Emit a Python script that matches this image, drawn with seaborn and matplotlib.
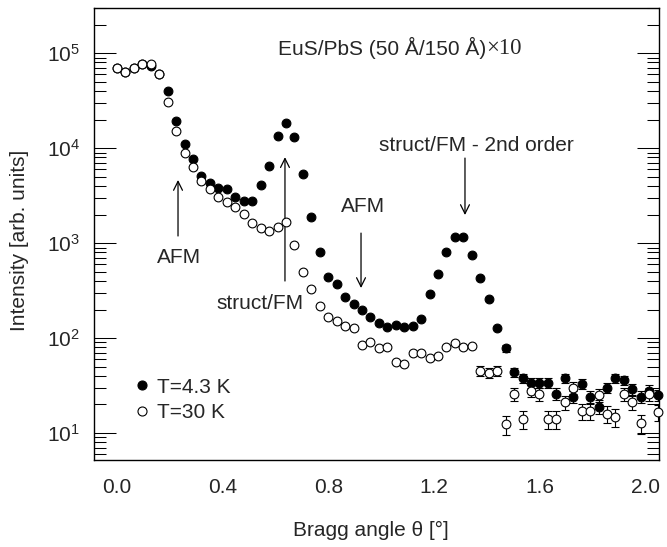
import numpy as np
import pandas as pd
import matplotlib
matplotlib.use("Agg")
import matplotlib.pyplot as plt
import seaborn as sns
from matplotlib.lines import Line2D

# Bragg angle grid (deg)
theta = [0.000, 0.032, 0.064, 0.096, 0.128, 0.160, 0.192, 0.224, 0.256, 0.288,
         0.320, 0.352, 0.384, 0.416, 0.448, 0.480, 0.512, 0.544, 0.576, 0.608,
         0.640, 0.672, 0.704, 0.736, 0.768, 0.800, 0.832, 0.864, 0.896, 0.928,
         0.960, 0.992, 1.024, 1.056, 1.088, 1.120, 1.152, 1.184, 1.216, 1.248,
         1.280, 1.312, 1.344, 1.376, 1.408, 1.440, 1.472, 1.504, 1.536, 1.568,
         1.600, 1.632, 1.664, 1.696, 1.728, 1.760, 1.792, 1.824, 1.856, 1.888,
         1.920, 1.952, 1.984, 2.016, 2.048]

# intensity at T=4.3 K (filled)
int_4K = [69500, 63100, 69500, 76600, 73000, 60100, 39800, 19200, 11000, 7660,
          5070, 4280, 3790, 3700, 3050, 2770, 2770, 4080, 6470, 13400,
          18300, 13100, 5320, 1880, 804, 438, 370, 270, 228, 197,
          166, 144, 131, 137, 131, 134, 158, 290, 472, 804,
          1160, 1160, 748, 428, 258, 127, 78, 44, 38, 34,
          34, 34, 26, 38, 24, 33, 24, 19, 30, 38,
          36, 29, 24, 28, 25]

# intensity at T=30 K (open)
int_30K = [69500, 63100, 69500, 76600, 76600, 60100, 30500, 15100, 8850, 6300,
           4500, 3700, 3050, 2700, 2390, 2020, 1620, 1440, 1340, 1470,
           1660, 950, 495, 328, 217, 166, 151, 134, 127, 84,
           91, 78, 80, 56, 53, 70, 70, 62, 65, 80,
           89, 80, 82, 45, 43, 45, 12.4, 26, 14, 28,
           26, 14, 14, 21, 30, 17, 17, 25, 16, 14.7,
           26, 21, 12.7, 26, 16.6]

# error bars on the low-count tail
err_start_4K = 46
err_4K = [6.2, 4.6, 4.3, 4.1, 4.1, 4.1, 3.6, 4.3, 3.4, 4.0,
          3.4, 3.1, 3.8, 4.3, 4.2, 3.8, 3.4, 3.7, 3.5]
err_start_30K = 43
err_30K = [5.4, 5.2, 5.4, 2.8, 4.1, 3.0, 4.2, 4.1, 3.0, 3.0, 3.7,
           4.4, 3.3, 3.3, 4.0, 3.2, 3.1, 4.1, 3.7, 2.9, 4.1, 3.3]

x_ticks = [0.0, 0.4, 0.8, 1.2, 1.6, 2.0]

sns.set_style("ticks")
plt.rcParams['font.family'] = ['Liberation Sans', 'DejaVu Sans']
plt.rcParams['mathtext.fontset'] = 'custom'
plt.rcParams['mathtext.rm'] = 'Liberation Sans'
plt.rcParams['mathtext.it'] = 'Liberation Sans:italic'
plt.rcParams['font.size'] = 15

df = pd.DataFrame({'theta': theta, 'T4': int_4K, 'T30': int_30K})

fig = plt.figure(figsize=(6.67, 5.47), dpi=100)
ax = fig.add_axes([94 / 667, 1 - 460 / 547, 565 / 667, 452 / 547])

# error bars (behind markers)
t4 = df['theta'].values[err_start_4K:]
ax.errorbar(t4, df['T4'].values[err_start_4K:], yerr=err_4K, fmt='none',
            ecolor='black', elinewidth=0.8, capsize=3.2, capthick=0.8, zorder=1)
t30 = df['theta'].values[err_start_30K:]
ax.errorbar(t30, df['T30'].values[err_start_30K:], yerr=err_30K, fmt='none',
            ecolor='black', elinewidth=0.8, capsize=3.2, capthick=0.8, zorder=1)

sns.scatterplot(data=df, x='theta', y='T4', ax=ax, marker='o', s=40,
                color='black', edgecolor='black', linewidth=0.8,
                zorder=3, clip_on=False, legend=False)
sns.scatterplot(data=df, x='theta', y='T30', ax=ax, marker='o', s=40,
                color='white', edgecolor='black', linewidth=0.8,
                zorder=4, clip_on=False, legend=False)

ax.set_yscale('log')
ax.set_ylim(5.2, 3.0e5)
ax.set_xlim(-0.0871, 2.053)
ax.set_xticks(x_ticks)
ax.set_xticklabels([f'{t:.1f}' for t in x_ticks])

for sp in ax.spines.values():
    sp.set_linewidth(1.0)
    sp.set_color('black')
    sp.set_visible(True)

ax.tick_params(axis='x', which='both', length=0, pad=13, labelsize=15)
ax.tick_params(axis='y', which='both', direction='in', left=True, right=True,
               labelsize=15, pad=10, width=0.75, color='black')
ax.tick_params(axis='y', which='major', length=16)
ax.tick_params(axis='y', which='minor', length=8.4)

ax.set_xlabel('Bragg angle θ [°]', fontsize=15)
ax.set_ylabel('Intensity [arb. units]', fontsize=15)
ax.xaxis.label.set_va('center')
ax.xaxis.set_label_coords(0.49, -0.155)
ax.yaxis.label.set_va('center')
ax.yaxis.set_label_coords(-0.131, 0.485)

# sample label
t = ax.text(0.3257, 0.9115, 'EuS/PbS (50 Å/150 Å)', transform=ax.transAxes,
            ha='left', va='center', fontsize=15)
ax.annotate('×10', xy=(1, 0), xycoords=t, ha='left', va='bottom',
            fontsize=16.5, family='Liberation Serif')

arrow = dict(arrowstyle='->', lw=0.9, color='black', shrinkA=0, shrinkB=0,
             mutation_scale=16)
ax.text(0.676, 0.6969, 'struct/FM - 2nd order', transform=ax.transAxes,
        ha='center', va='center', fontsize=15)
ax.annotate('', xy=(0.6566, 0.542), xytext=(0.6566, 0.668),
            xycoords='axes fraction', arrowprops=arrow)

ax.text(0.476, 0.560, 'AFM', transform=ax.transAxes, ha='center', va='center', fontsize=15)
ax.annotate('', xy=(0.4726, 0.3805), xytext=(0.4726, 0.502),
            xycoords='axes fraction', arrowprops=arrow)

ax.text(0.2938, 0.3473, 'struct/FM', transform=ax.transAxes, ha='center', va='center', fontsize=15)
ax.annotate('', xy=(0.338, 0.670), xytext=(0.338, 0.396),
            xycoords='axes fraction', arrowprops=arrow)

ax.text(0.1513, 0.449, 'AFM', transform=ax.transAxes, ha='center', va='center', fontsize=15)
ax.annotate('', xy=(0.1487, 0.6195), xytext=(0.1487, 0.4956),
            xycoords='axes fraction', arrowprops=arrow)

handles = [Line2D([], [], marker='o', ls='none', mfc='black', mec='black', ms=6.5, mew=0.8),
           Line2D([], [], marker='o', ls='none', mfc='white', mec='black', ms=6.5, mew=0.8)]
ax.legend(handles, ['T=4.3 K', 'T=30 K'], loc='upper left',
          bbox_to_anchor=(0.0664, 0.1825), frameon=False, fontsize=15,
          handlelength=1.0, handletextpad=0.2, borderpad=0, borderaxespad=0,
          labelspacing=0.33)

fig.savefig('out.png', dpi=100)
